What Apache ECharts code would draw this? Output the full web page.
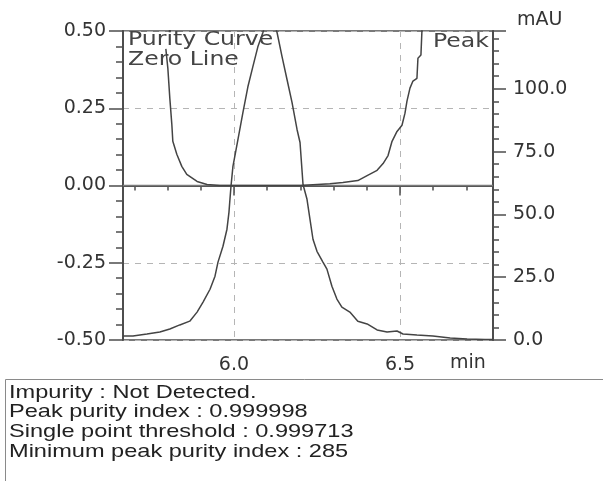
<!DOCTYPE html>
<html>
<head>
<meta charset="utf-8">
<script src="https://cdn.jsdelivr.net/npm/echarts@6/dist/echarts.min.js"></script>
<style>
    html, body {margin: 0; padding: 0; background: #fff;}
    #chart {width: 603px; height: 481px;}
</style>
</head>
<body>
<div id="chart"></div>
<script>
// peak trace (mAU, right axis)
const peakTime = [5.666, 5.696, 5.738, 5.777, 5.807, 5.837, 5.867, 5.889, 5.907, 5.928, 5.943, 5.952, 5.967, 5.979, 5.985, 5.988, 5.991,
    5.997, 6.012, 6.027, 6.042, 6.057, 6.072, 6.087, 6.108, 6.130, 6.145, 6.160, 6.175, 6.190, 6.199, 6.208, 6.220, 6.229,
    6.238, 6.250, 6.268, 6.280, 6.295, 6.310, 6.325, 6.349, 6.373, 6.401, 6.431, 6.461, 6.491, 6.509, 6.551, 6.599, 6.651,
    6.702, 6.756, 6.780];
const peakAbs = [1.6, 1.6, 2.4, 3.2, 4.4, 6.0, 7.5, 11.1, 15.1, 20.2, 25.4, 31.0, 37.3, 44.1, 50.8, 56.0, 61.0,
    69.1, 79.8, 90.5, 100.8, 108.8, 116.7, 122.3, 132.0, 122.3, 112.7, 103.6, 94.5, 83.8, 78.6, 61.9, 56.0, 48.0,
    40.1, 35.3, 31.0, 28.2, 21.4, 16.3, 13.1, 11.1, 7.5, 6.4, 4.0, 3.2, 3.6, 2.4, 2.0, 1.6, 0.8,
    0.4, 0.2, 0.2];

// purity curve (left axis)
const purityTime = [5.795, 5.801, 5.807, 5.813, 5.816, 5.828, 5.843, 5.858, 5.889, 5.919, 5.958, 6.0, 6.1, 6.2,
    6.289, 6.328, 6.373, 6.401, 6.431, 6.449, 6.464, 6.476, 6.491, 6.506, 6.515, 6.521, 6.530, 6.539, 6.551, 6.554,
    6.563, 6.566, 6.570];
const purityVal = [0.442, 0.380, 0.282, 0.198, 0.143, 0.101, 0.062, 0.036, 0.013, 0.003, 0, 0, 0, 0,
    0.006, 0.010, 0.016, 0.032, 0.049, 0.071, 0.097, 0.143, 0.175, 0.195, 0.234, 0.273, 0.315, 0.338, 0.347, 0.412,
    0.422, 0.500, 0.560];

const zeroTime = [5.666, 6.78];
const zeroVal = [0, 0];

const xLabels = ['6.0', '6.5'];
const infoLines = [
    'Impurity : Not Detected.',
    'Peak purity index : 0.999998',
    'Single point threshold : 0.999713',
    'Minimum peak purity index : 285'
];

const pair = (xs, ys) => xs.map((x, i) => [x, ys[i]]);

const axisColor = '#4d4d4d';
const textColor = '#333';
const font = 'DejaVu Sans';

const chart = echarts.init(document.getElementById('chart'), null, {renderer: 'canvas'});

// the source picture is stretched sideways, so the plain texts get a scaleX
const stretchText = (text, x, y, extra) => Object.assign({
    type: 'text',
    x: x,
    y: y,
    scaleX: 1.24,
    z: 10,
    style: {text: text, fontFamily: font, fontSize: 19, fill: '#444', textVerticalAlign: 'top'}
}, extra || {});

const option = {
    backgroundColor: '#fff',
    animation: false,
    grid: {
        left: 123,
        right: 110,
        top: 31,
        bottom: 141,
        show: true,
        borderColor: axisColor,
        borderWidth: 1.5
    },
    xAxis: {
        type: 'value',
        min: 5.666,
        max: 6.78,
        minInterval: 0.5,
        maxInterval: 0.5,
        axisLine: {lineStyle: {color: axisColor, width: 2}},
        axisTick: {length: 10, lineStyle: {color: axisColor, width: 1.5}},
        minorTick: {show: true, splitNumber: 5, length: 5, lineStyle: {color: axisColor, width: 1.5}},
        axisLabel: {
            margin: 16,
            showMinLabel: false,
            showMaxLabel: false,
            fontFamily: font,
            fontSize: 19,
            color: textColor,
            formatter: v => {
                const s = v.toFixed(1);
                return xLabels.includes(s) ? s : '';
            }
        },
        splitLine: {
            show: true,
            showMinLine: false,
            showMaxLine: false,
            lineStyle: {color: '#b5b5b5', type: [6, 6], width: 1}
        }
    },
    yAxis: [
        {
            type: 'value',
            min: -0.5,
            max: 0.5,
            interval: 0.25,
            axisLine: {show: true, lineStyle: {color: axisColor, width: 2}},
            axisTick: {show: true, length: 14, lineStyle: {color: axisColor, width: 1.5}},
            minorTick: {show: true, splitNumber: 5, length: 7, lineStyle: {color: axisColor, width: 1.5}},
            axisLabel: {
                margin: 17,
                fontFamily: font,
                fontSize: 19,
                color: textColor,
                formatter: v => v.toFixed(2)
            },
            splitLine: {
                show: true,
                lineStyle: {color: '#b5b5b5', type: [6, 6], width: 1}
            }
        },
        {
            type: 'value',
            position: 'right',
            min: 0,
            max: 123,
            interval: 25,
            axisLine: {show: true, lineStyle: {color: axisColor, width: 2}},
            axisTick: {show: true, length: 13, lineStyle: {color: axisColor, width: 1.5}},
            minorTick: {show: true, splitNumber: 5, length: 6, lineStyle: {color: axisColor, width: 1.5}},
            axisLabel: {
                margin: 20,
                showMaxLabel: false,
                fontFamily: font,
                fontSize: 19,
                color: textColor,
                formatter: v => v.toFixed(1)
            },
            splitLine: {show: false}
        }
    ],
    graphic: [
        // series labels inside the plot
        stretchText('Purity Curve', 128, 31),
        stretchText('Zero Line', 128, 51),
        stretchText('Peak', 433, 33),
        // axis units
        {
            type: 'text',
            left: 517,
            top: 11,
            style: {text: 'mAU', fontFamily: font, fontSize: 19, fill: textColor}
        },
        {
            type: 'text',
            left: 450,
            top: 354,
            style: {text: 'min', fontFamily: font, fontSize: 19, fill: textColor}
        },
        // result box below the plot
        {
            type: 'rect',
            shape: {x: 5.5, y: 379.5, width: 620, height: 200},
            style: {fill: 'none', stroke: '#8a8a8a', lineWidth: 1}
        },
        ...infoLines.map((t, i) => stretchText(t, 9, 383 + i * 19.6, {
            style: {text: t, fontFamily: 'Liberation Sans', fontSize: 19, fill: '#222', textVerticalAlign: 'top'}
        }))
    ],
    series: [
        {
            name: 'Purity Curve',
            type: 'line',
            yAxisIndex: 0,
            showSymbol: false,
            clip: true,
            z: 3,
            lineStyle: {color: '#444', width: 1.5},
            itemStyle: {color: '#444'},
            data: pair(purityTime, purityVal)
        },
        {
            name: 'Zero Line',
            type: 'line',
            yAxisIndex: 0,
            showSymbol: false,
            z: 2,
            lineStyle: {color: '#7a7a7a', width: 1.5},
            itemStyle: {color: '#7a7a7a'},
            data: pair(zeroTime, zeroVal)
        },
        {
            name: 'Peak',
            type: 'line',
            yAxisIndex: 1,
            showSymbol: false,
            clip: true,
            z: 3,
            lineStyle: {color: '#444', width: 1.5},
            itemStyle: {color: '#444'},
            data: pair(peakTime, peakAbs)
        }
    ]
};

chart.setOption(option);
</script>
</body>
</html>
